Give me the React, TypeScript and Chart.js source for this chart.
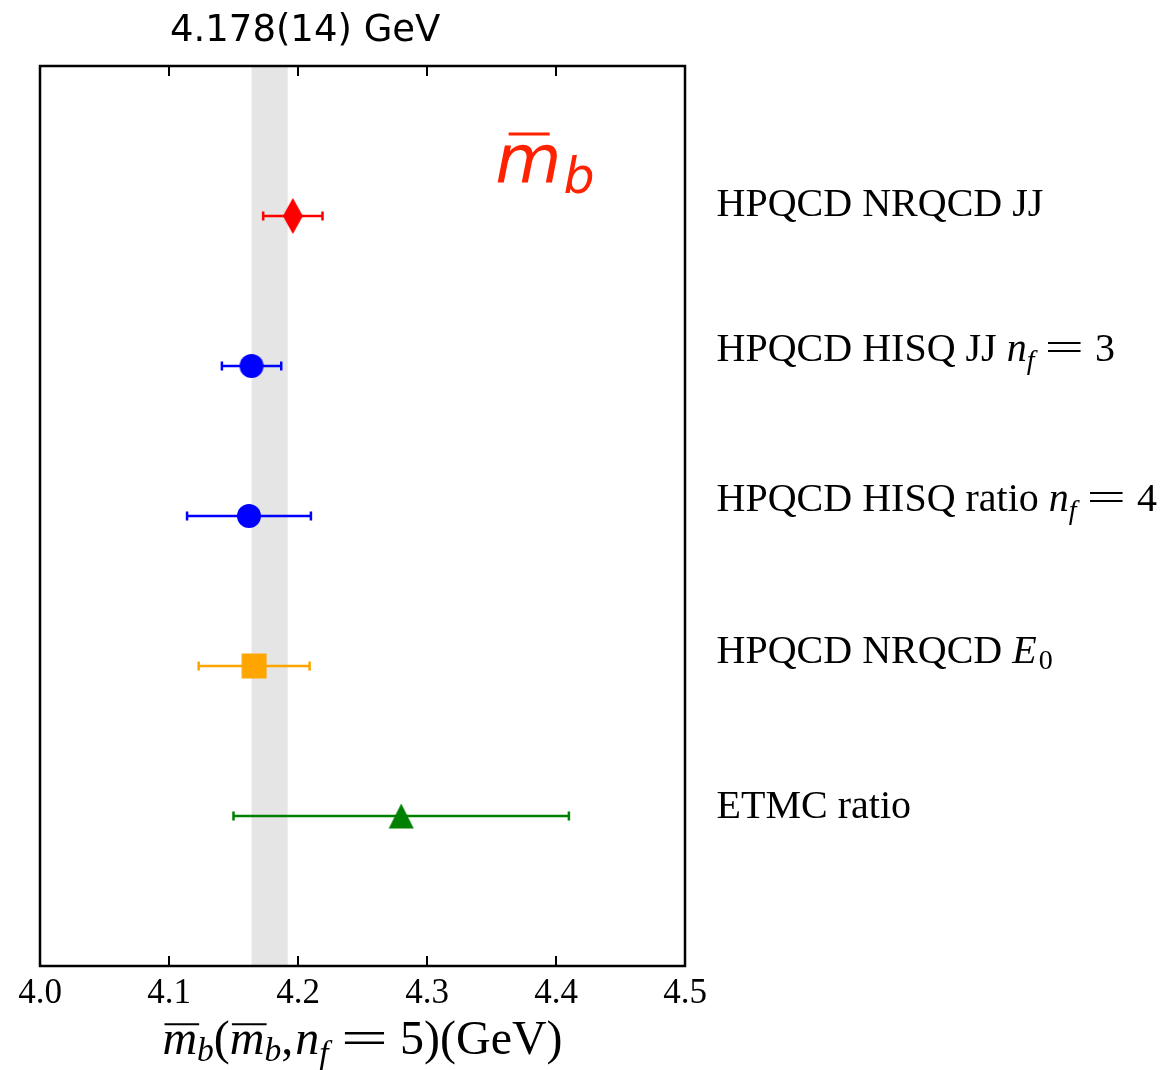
import { useEffect, useRef } from 'react';
import { Chart, registerables } from 'chart.js';

Chart.register(...registerables);

// ---- data ----
const rowNames = ['HPQCD NRQCD JJ', 'HPQCD HISQ JJ nf=3', 'HPQCD HISQ ratio nf=4', 'HPQCD NRQCD E0', 'ETMC ratio'];
const rowPos = [1, 2, 3, 4, 5];
const values = [4.196, 4.164, 4.162, 4.166, 4.28];
const errors = [0.023, 0.023, 0.048, 0.043, 0.13];
const colors = ['#ff0000', '#0000ff', '#0000ff', '#ffa500', '#008000'];
const shapes = ['thinDiamond', 'circle', 'circle', 'square', 'triangle'];
const labelPos = [0.913, 1.877, 2.877, 3.887, 4.92];
const avgValue = 4.178;
const avgError = 0.014;
const xTicks = [4.0, 4.1, 4.2, 4.3, 4.4, 4.5];
const xTickLabels = ['4.0', '4.1', '4.2', '4.3', '4.4', '4.5'];
const titleText = '4.178(14) GeV';

type Seg = { t: string; it?: boolean; s?: number; dy?: number; sx?: number; over?: boolean; pre?: number; post?: number };

const serif = '"Liberation Serif", "Times New Roman", serif';

function makeMarker(shape: string, color: string): HTMLCanvasElement {
  const c = document.createElement('canvas');
  let w = 26, h = 26;
  if (shape === 'thinDiamond') { w = 22; h = 38; }
  c.width = w; c.height = h;
  const ctx = c.getContext('2d')!;
  ctx.fillStyle = color;
  ctx.beginPath();
  if (shape === 'circle') ctx.arc(13, 13, 12, 0, Math.PI * 2);
  else if (shape === 'square') ctx.rect(0.5, 0.5, 25, 25);
  else if (shape === 'triangle') { ctx.moveTo(13, 0.5); ctx.lineTo(25.5, 25.5); ctx.lineTo(0.5, 25.5); ctx.closePath(); }
  else { ctx.moveTo(11, 1); ctx.lineTo(21, 19); ctx.lineTo(11, 37); ctx.lineTo(1, 19); ctx.closePath(); }
  ctx.fill();
  return c;
}

function segFont(sg: Seg, base: number, family: string) {
  return `${sg.it ? 'italic ' : ''}${base * (sg.s || 1)}px ${family}`;
}

function drawRich(
  ctx: CanvasRenderingContext2D, segs: Seg[], x: number, y: number, base: number, family: string,
  align: 'left' | 'center', overFrac = [0.06, 1.06], overH = 0.62,
) {
  const widths = segs.map((sg) => {
    ctx.font = segFont(sg, base, family);
    return ctx.measureText(sg.t).width * (sg.sx || 1) + (sg.pre || 0) + (sg.post || 0);
  });
  const total = widths.reduce((a, b) => a + b, 0);
  let cx = align === 'center' ? x - total / 2 : x;
  ctx.textAlign = 'left';
  ctx.textBaseline = 'alphabetic';
  segs.forEach((sg, i) => {
    ctx.font = segFont(sg, base, family);
    const gx = cx + (sg.pre || 0);
    const gy = y + (sg.dy || 0) * base;
    ctx.save();
    ctx.translate(gx, gy);
    ctx.scale(sg.sx || 1, 1);
    ctx.fillText(sg.t, 0, 0);
    ctx.restore();
    if (sg.over) {
      const w = ctx.measureText(sg.t).width;
      const oy = gy - base * overH;
      ctx.save();
      ctx.lineWidth = base * 0.045;
      ctx.strokeStyle = ctx.fillStyle as string;
      ctx.beginPath();
      ctx.moveTo(gx + w * overFrac[0], oy);
      ctx.lineTo(gx + w * overFrac[1], oy);
      ctx.stroke();
      ctx.restore();
    }
    cx += widths[i];
  });
}

const rowLabelSegs: Seg[][] = [
  [{ t: 'HPQCD NRQCD JJ' }],
  [{ t: 'HPQCD HISQ JJ ' }, { t: 'n', it: true }, { t: 'f', it: true, s: 0.7, dy: 0.2 }, { t: '=', sx: 1.75, pre: 10, post: 11 }, { t: '3' }],
  [{ t: 'HPQCD HISQ ratio ' }, { t: 'n', it: true }, { t: 'f', it: true, s: 0.7, dy: 0.2 }, { t: '=', sx: 1.75, pre: 10, post: 11 }, { t: '4' }],
  [{ t: 'HPQCD NRQCD ' }, { t: 'E', it: true, post: 2 }, { t: '0', s: 0.7, dy: 0.15 }],
  [{ t: 'ETMC ratio' }],
];

const axisTitleSegs: Seg[] = [
  { t: 'm', it: true, over: true },
  { t: 'b', it: true, s: 0.7, dy: 0.15 },
  { t: '(' },
  { t: 'm', it: true, over: true },
  { t: 'b', it: true, s: 0.7, dy: 0.15 },
  { t: ',', post: 2 },
  { t: 'n', it: true },
  { t: 'f', it: true, s: 0.7, dy: 0.2 },
  { t: '=', sx: 1.75, pre: 12, post: 12 },
  { t: '5' },
  { t: ')(GeV)' },
];

const customPlugin = {
  id: 'customDecor',
  beforeDatasetsDraw(chart: any) {
    const { ctx, chartArea, scales } = chart;
    const { top, bottom } = chartArea;
    const xs = scales.x, ys = scales.y;
    ctx.save();
    const b1 = xs.getPixelForValue(avgValue - avgError);
    const b2 = xs.getPixelForValue(avgValue + avgError);
    ctx.fillStyle = '#e5e5e5';
    ctx.fillRect(b1, top, b2 - b1, bottom - top);
    values.forEach((v, i) => {
      const py = ys.getPixelForValue(rowPos[i]);
      const x1 = xs.getPixelForValue(v - errors[i]);
      const x2 = xs.getPixelForValue(v + errors[i]);
      ctx.strokeStyle = colors[i];
      ctx.lineWidth = 2.5;
      ctx.beginPath();
      ctx.moveTo(x1, py); ctx.lineTo(x2, py);
      ctx.moveTo(x1, py - 4.5); ctx.lineTo(x1, py + 4.5);
      ctx.moveTo(x2, py - 4.5); ctx.lineTo(x2, py + 4.5);
      ctx.stroke();
    });
    ctx.restore();
  },
  afterDraw(chart: any) {
    const { ctx, chartArea, scales } = chart;
    const { left, right, top, bottom } = chartArea;
    const xs = scales.x, ys = scales.y;
    ctx.save();
    // frame
    ctx.strokeStyle = '#000';
    ctx.lineWidth = 2.5;
    ctx.strokeRect(left, top, right - left, bottom - top);
    // ticks
    ctx.lineWidth = 2;
    xTicks.forEach((t) => {
      const px = xs.getPixelForValue(t);
      ctx.beginPath();
      ctx.moveTo(px, top); ctx.lineTo(px, top + 10);
      ctx.moveTo(px, bottom); ctx.lineTo(px, bottom - 10);
      ctx.stroke();
    });
    // tick labels
    ctx.fillStyle = '#000';
    ctx.font = `35px ${serif}`;
    ctx.textAlign = 'center';
    ctx.textBaseline = 'alphabetic';
    xTicks.forEach((t, i) => {
      ctx.fillText(xTickLabels[i], xs.getPixelForValue(t), bottom + 37);
    });
    // axis title
    ctx.fillStyle = '#000';
    drawRich(ctx, axisTitleSegs, (left + right) / 2, bottom + 88, 48, serif, 'center');
    // top title
    ctx.font = '37px "DejaVu Sans", sans-serif';
    ctx.textAlign = 'left';
    ctx.textBaseline = 'middle';
    ctx.fillText(titleText, xs.getPixelForValue(4.1) + 1, top - 35);
    // row labels
    rowLabelSegs.forEach((segs, i) => {
      const py = ys.getPixelForValue(labelPos[i]);
      ctx.fillStyle = '#000';
      drawRich(ctx, segs, xs.getPixelForValue(4.5245), py + 13.5, 40, serif, 'left');
    });
    // red symbol
    ctx.fillStyle = '#ff2200';
    drawRich(ctx, [
      { t: 'm', it: true, over: true, post: 2 },
      { t: 'b', it: true, s: 0.72, dy: 0.14 },
    ], xs.getPixelForValue(4.353), ys.getPixelForValue(0.78), 68, '"DejaVu Sans", sans-serif', 'left', [0.2, 0.82], 0.72);
    ctx.restore();
  },
};

export default function App() {
  const ref = useRef<HTMLCanvasElement | null>(null);
  useEffect(() => {
    const canvas = ref.current!;
    const chart = new Chart(canvas, {
      type: 'scatter',
      data: {
        datasets: values.map((v, i) => ({
          label: rowNames[i],
          data: [{ x: v, y: rowPos[i] }],
          pointStyle: makeMarker(shapes[i], colors[i]) as any,
          pointRadius: 12,
          backgroundColor: colors[i],
          borderColor: colors[i],
        })),
      },
      options: {
        animation: false,
        responsive: false,
        devicePixelRatio: 1,
        events: [],
        layout: { padding: { left: 40, right: 480, top: 66, bottom: 104 } },
        plugins: { legend: { display: false }, tooltip: { enabled: false } },
        scales: {
          x: { type: 'linear', min: 4.0, max: 4.5, display: false },
          y: { type: 'linear', min: 0, max: 6, reverse: true, display: false },
        },
      },
      plugins: [customPlugin],
    });
    return () => chart.destroy();
  }, []);
  return (
    <div style={{ position: 'absolute', left: 0, top: 0, width: 1165, height: 1070, background: '#fff' }}>
      <canvas ref={ref} width={1165} height={1070} style={{ width: 1165, height: 1070, display: 'block' }} />
    </div>
  );
}
